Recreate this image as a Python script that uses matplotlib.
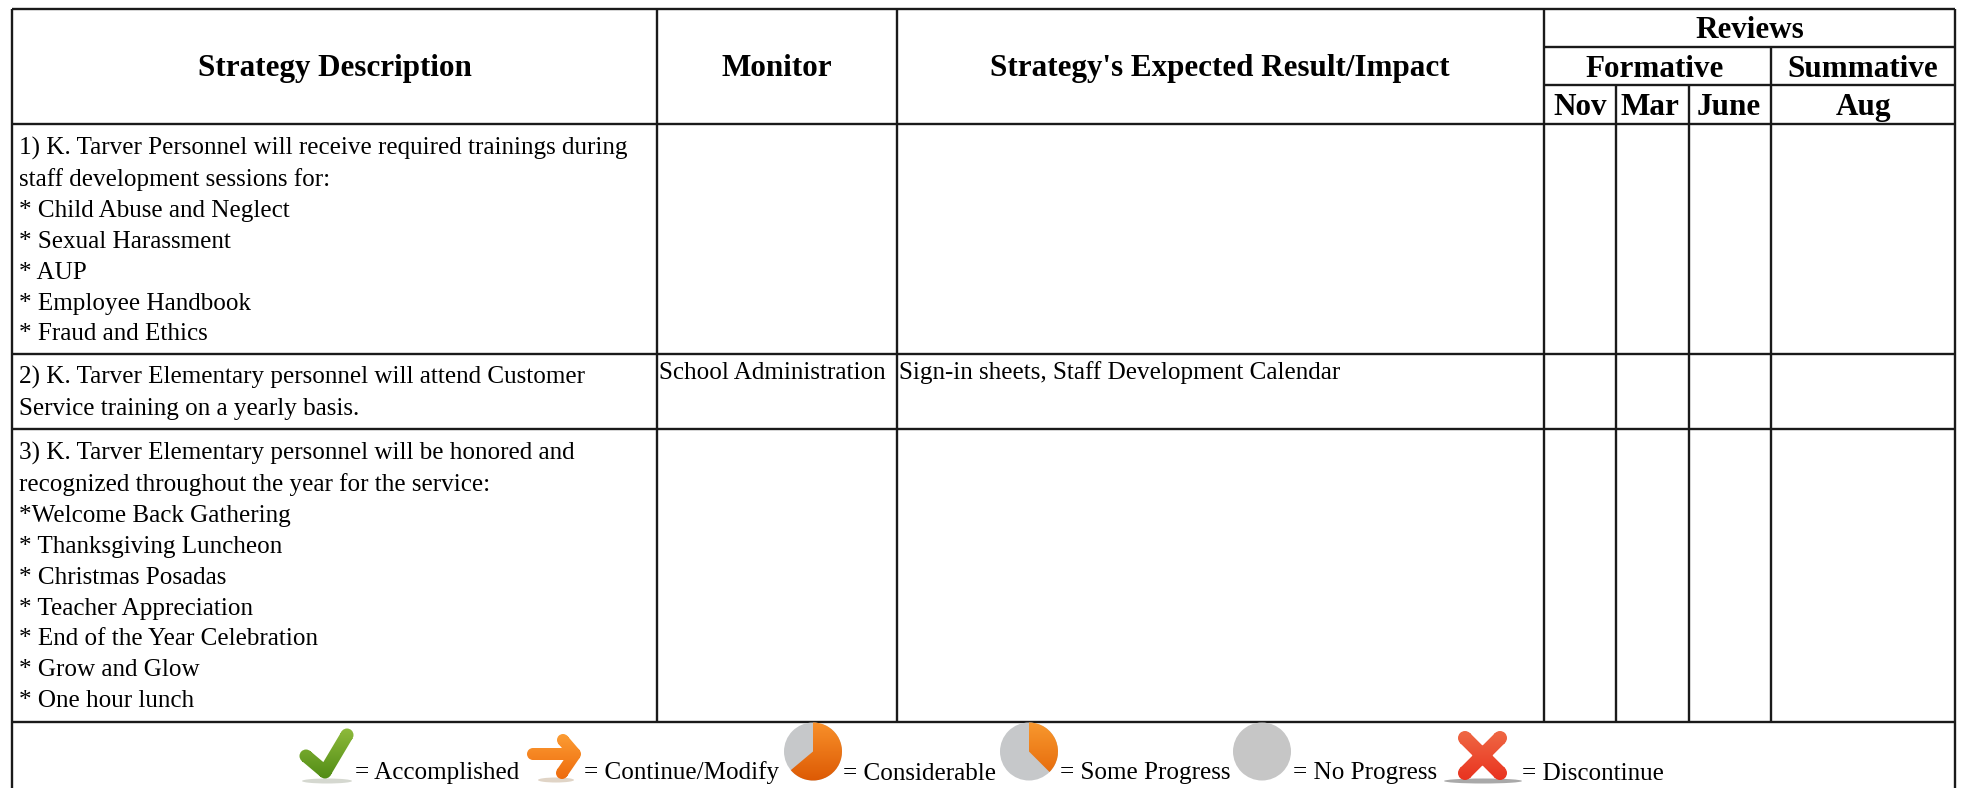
import matplotlib
matplotlib.use('Agg')
from matplotlib import pyplot as plt
from matplotlib.patches import Wedge, Circle, Ellipse, PathPatch
from matplotlib.path import Path
from matplotlib.colors import LinearSegmentedColormap
import numpy as np

W, H = 1961, 788
SERIF = ['Liberation Serif', 'DejaVu Serif']

# table grid, pixels
col_x = [12, 657, 897, 1544, 1616, 1689, 1771, 1955]
row_y = [9, 124, 354, 429, 721.5]

strategy_1 = ["1) K. Tarver Personnel will receive required trainings during",
              "staff development sessions for:",
              "* Child Abuse and Neglect",
              "* Sexual Harassment",
              "* AUP",
              "* Employee Handbook",
              "* Fraud and Ethics"]
strategy_2 = ["2) K. Tarver Elementary personnel will attend Customer",
              "Service training on a yearly basis."]
strategy_3 = ["3) K. Tarver Elementary personnel will be honored and",
              "recognized throughout the year for the service:",
              "*Welcome Back Gathering",
              "* Thanksgiving Luncheon",
              "* Christmas Posadas",
              "* Teacher Appreciation",
              "* End of the Year Celebration",
              "* Grow and Glow",
              "* One hour lunch"]
monitor_2 = "School Administration"
result_2 = "Sign-in sheets, Staff Development Calendar"
legend_labels = ["= Accomplished", "= Continue/Modify", "= Considerable",
                 "= Some Progress", "= No Progress", "= Discontinue"]
legend_x = [355, 584, 843, 1060, 1293, 1522]

fig = plt.figure(figsize=(W/100, H/100), dpi=100)
ax = fig.add_axes([0, 0, 1, 1])
ax.axis('off')


def hline(y, x0, x1):
    ax.plot([x0, x1], [y, y], color='#1a1a1a', lw=1.7, solid_capstyle='butt')


def vline(x, y0, y1):
    ax.plot([x, x], [y0, y1], color='#1a1a1a', lw=1.7, solid_capstyle='butt')


def grad(patch, top, bottom, box):
    # vertical gradient clipped to a patch
    ax.add_patch(patch)
    patch.set_facecolor('none')
    patch.set_edgecolor('none')
    cm = LinearSegmentedColormap.from_list('g', [top, bottom])
    im = ax.imshow(np.linspace(0, 1, 64).reshape(-1, 1), cmap=cm, aspect='auto',
                   extent=[box[0], box[1], box[3], box[2]], origin='upper', zorder=3)
    im.set_clip_path(patch)


def stroke(polylines, width):
    # thick round capped strokes as one path: rectangles plus circles
    parts = []
    r = width/2
    for pts in polylines:
        pts = np.array(pts, float)
        for p in pts:
            parts.append(Path.circle(p, r))
        for a, b in zip(pts[:-1], pts[1:]):
            d = (b - a)/np.hypot(*(b - a))
            n = np.array([-d[1], d[0]])*r
            # same winding as the circles, overlaps would cancel otherwise
            if n[0]*d[1] - n[1]*d[0] < 0:
                n = -n
            parts.append(Path([a + n, b + n, b - n, a - n, a + n],
                              closed=True))
    return PathPatch(Path.make_compound_path(*parts))


# grid
hline(row_y[0], col_x[0], col_x[-1])
hline(47, col_x[3], col_x[-1])
hline(85, col_x[3], col_x[-1])
for y in row_y[1:]:
    hline(y, col_x[0], col_x[-1])
vline(col_x[0], row_y[0], H)
vline(col_x[-1], row_y[0], H)
vline(col_x[1], row_y[0], row_y[-1])
vline(col_x[2], row_y[0], row_y[-1])
vline(col_x[3], row_y[0], row_y[-1])
vline(col_x[4], 85, row_y[-1])
vline(col_x[5], 85, row_y[-1])
vline(col_x[6], 47, row_y[-1])

# header
hdr = dict(family=SERIF, weight='bold', fontsize=22.4, ha='center', va='baseline', color='black')
ax.text(334.5, 76, "Strategy Description", **hdr)
ax.text(777, 76, "Monitor", **hdr)
ax.text(1220, 76, "Strategy's Expected Result/Impact", **hdr)
ax.text(1750, 38, "Reviews", **hdr)
ax.text(1655, 77, "Formative", **hdr)
ax.text(1863, 77, "Summative", **hdr)
ax.text(1580, 115, "Nov", **hdr)
ax.text(1650, 115, "Mar", **hdr)
ax.text(1729, 115, "June", **hdr)
ax.text(1863, 115, "Aug", **hdr)

# body
body = dict(family=SERIF, fontsize=18.1, ha='left', va='baseline', color='black')
for lines, y0 in ((strategy_1, 155), (strategy_2, 384), (strategy_3, 460)):
    for i, s in enumerate(lines):
        ax.text(19, y0 + i*30.9, s, **body)
ax.text(659, 379, monitor_2, **body)
ax.text(899, 379, result_2, **body)

# legend text
for s, x in zip(legend_labels, legend_x):
    ax.text(x, 779.5, s, **body)

# shadows under the icons
for cx, cy, w, c in ((327, 781, 50, '#d5d8d0'), (556, 780, 36, '#e0d4c6'), (1483, 781, 78, '#a9a9a9')):
    ax.add_patch(Ellipse((cx, cy), w, 5, color=c, lw=0, zorder=2))

# check mark
grad(stroke([[(306, 756), (325, 772), (347, 735)]], 13), '#8fbb3c', '#4f8b14', (295, 358, 727, 781))

# arrow
grad(stroke([[(533, 754), (574, 754)], [(563, 740), (575, 754), (562, 773)]], 12),
     '#fc9e35', '#ee6a0c', (524, 585, 732, 780))

# pies, y axis is flipped so angles run clockwise from the right
ax.add_patch(Circle((813, 751.5), 29, color='#c6c8ca', lw=0, zorder=2))
grad(Wedge((813, 751.5), 29, -90, 140), '#f8902a', '#dd5a04', (784, 842, 722, 781))
ax.add_patch(Circle((1029, 751.5), 29, color='#c6c8ca', lw=0, zorder=2))
grad(Wedge((1029, 751.5), 29, -90, 45), '#f8982e', '#e46608', (1000, 1058, 722, 781))
ax.add_patch(Circle((1262, 751.5), 29, color='#c6c6c6', lw=0, zorder=2))

# cross
grad(stroke([[(1465, 738), (1500, 773)], [(1500, 738), (1465, 773)]], 14),
     '#ef6a45', '#e9321f', (1455, 1512, 729, 781))

ax.set_xlim(0, W)
ax.set_ylim(H, 0)
fig.savefig('out.png', dpi=100, facecolor='white')
